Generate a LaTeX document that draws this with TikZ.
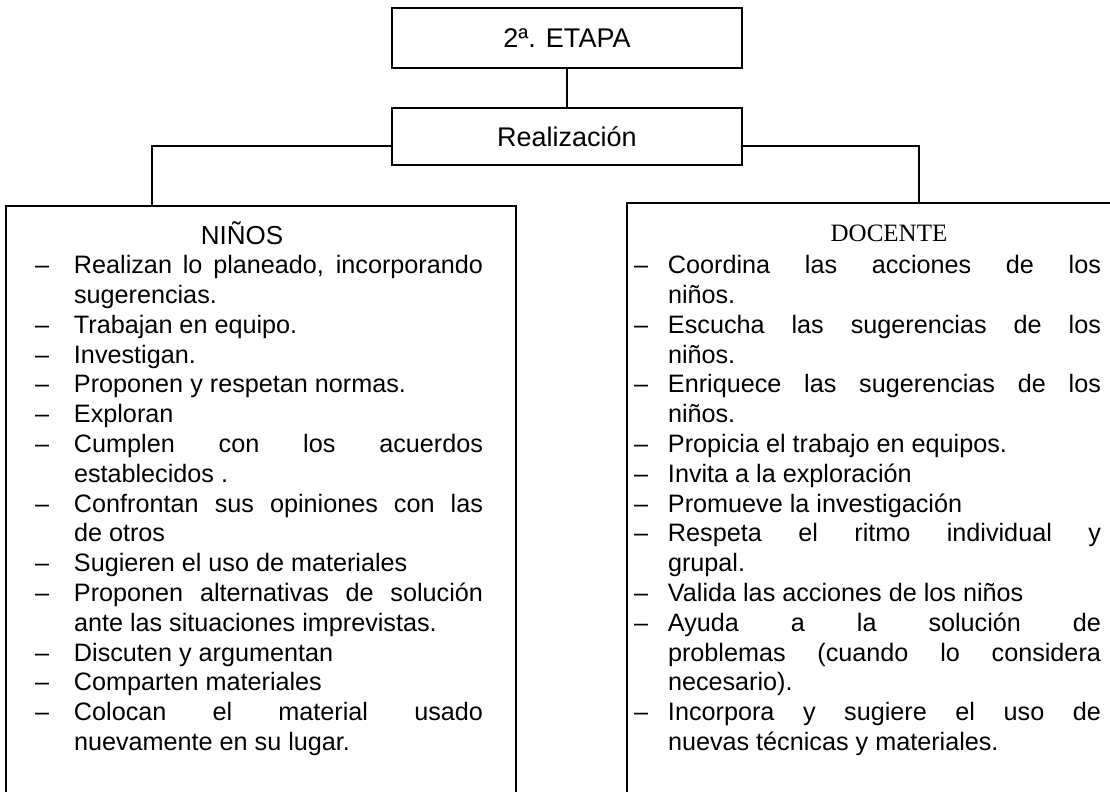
\documentclass[tikz,border=0pt]{standalone}
\usepackage{fontspec}
\setmainfont{Liberation Sans}
\newfontfamily\tnr{Liberation Serif}
\newlength\dashgap
\newcommand\bodyfont{\fontsize{12.6}{14.9}\selectfont\hyphenpenalty=10000\tolerance=10000}
\newcommand\itm[1]{\par\hangindent=\dashgap\hangafter=1\noindent\makebox[\dashgap][l]{--}#1\par}

\begin{document}
\begin{tikzpicture}[x=0.5pt,y=-0.5pt,line width=1pt,
      box/.style={draw,inner sep=0pt},
      title/.style={box,minimum width=175pt,font=\fontsize{13.5}{16}\selectfont},
      colbox/.style={box,anchor=north west,minimum height=330pt},
      items/.style={anchor=north west,inner sep=0pt,align=justify,font=\bodyfont}]
      \useasboundingbox (0,0) rectangle (1110,792);
      \clip (0,0) rectangle (1110,792);
      \node[title,minimum height=30pt] (e0) at (567,38) {2ª. ETAPA};
      \node[title,minimum height=28.5pt] (e1) at (567,136.5) {Realización};
      \node[colbox,minimum width=255pt] (n0) at (5,205) {};
      \node[colbox,minimum width=243pt] (d0) at (626,202) {};
      \coordinate (jl) at (152,146);
      \coordinate (jr) at (919,146);
      \draw (e0) -- (e1);
      \draw (e1.west |- jl) -- (jl) -- (jl |- n0.north);
      \draw (e1.east |- jr) -- (jr) -- (jr |- d0.north);
      % headers
      \node[font=\fontsize{13}{15}\selectfont] (n1) at (242,233) {NIÑOS};
      \node[font=\tnr\fontsize{12.5}{15}\selectfont] (d1) at (889,233) {DOCENTE};
      % lists
      \node[items,text width=224pt] (n2) at (34,243) {\setlength\dashgap{19.5pt}%
        \itm{Realizan lo planeado, incorporando\linebreak sugerencias.}
        \itm{Trabajan en equipo.}
        \itm{Investigan.}
        \itm{Proponen y respetan normas.}
        \itm{Exploran}
        \itm{Cumplen con los acuerdos\linebreak establecidos .}
        \itm{Confrontan sus opiniones con las\linebreak de otros}
        \itm{Sugieren el uso de materiales}
        \itm{Proponen alternativas de solución\linebreak ante las situaciones imprevistas.}
        \itm{Discuten y argumentan}
        \itm{Comparten materiales}
        \itm{Colocan el material usado\linebreak nuevamente en su lugar.}};
      \node[items,text width=233.5pt] (d2) at (633,243) {\setlength\dashgap{17pt}%
        \itm{Coordina las acciones de los\linebreak niños.}
        \itm{Escucha las sugerencias de los\linebreak niños.}
        \itm{Enriquece las sugerencias de los\linebreak niños.}
        \itm{Propicia el trabajo en equipos.}
        \itm{Invita a la exploración}
        \itm{Promueve la investigación}
        \itm{Respeta el ritmo individual y\linebreak grupal.}
        \itm{Valida las acciones de los niños}
        \itm{Ayuda a la solución de\linebreak problemas (cuando lo considera\linebreak necesario).}
        \itm{Incorpora y sugiere el uso de\linebreak nuevas técnicas y materiales.}};
    \end{tikzpicture}
\end{document}
